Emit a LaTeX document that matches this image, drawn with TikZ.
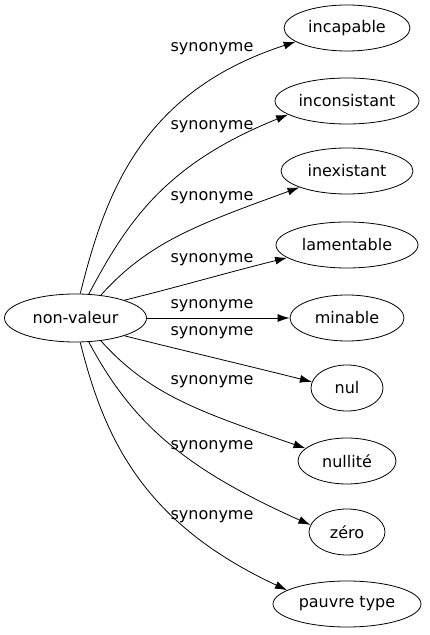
\documentclass[tikz,border=0pt]{standalone}
\usepackage{fontspec}
\setmainfont{DejaVu Sans}
\usetikzlibrary{shapes.geometric,arrows.meta}
\begin{document}
\begin{tikzpicture}[x=1pt,y=1pt,
  word/.style={draw, ellipse, inner sep=0pt, minimum height=46pt, line width=0.8pt, font=\fontsize{16}{18}\selectfont},
  lab/.style={font=\fontsize{16}{18}\selectfont, inner sep=0pt},
  syn/.style={-{Latex[length=12pt,width=8pt]}, line width=0.8pt},
  curvy/.style={out looseness=0.8, in looseness=1.25}]
\useasboundingbox (0,0) rectangle (429,635);
\node[word, minimum width=142pt, minimum height=48pt] (src) at (75.5,317) {non-valeur};
\node[word, minimum width=126pt] (incapable) at (347,607) {incapable};
\node[word, minimum width=144pt] (inconsistant) at (347,534) {inconsistant};
\node[word, minimum width=132pt] (inexistant) at (347,464) {inexistant};
\node[word, minimum width=142pt] (lamentable) at (347,390) {lamentable};
\node[word, minimum width=114pt] (minable) at (347,317) {minable};
\node[word, minimum width=72pt] (nul) at (347,247) {nul};
\node[word, minimum width=98pt] (nullite) at (347,174) {nullité};
\node[word, minimum width=76pt] (zero) at (347,103) {zéro};
\node[word, minimum width=148pt] (pauvre) at (347,31) {pauvre type};
\node[lab] (l1) at (212,586) {synonyme};
\node[lab] (l2) at (212,508) {synonyme};
\node[lab] (l3) at (212,437) {synonyme};
\node[lab] (l4) at (212,375) {synonyme};
\node[lab] (l5) at (212,329) {synonyme};
\node[lab] (l6) at (212,302) {synonyme};
\node[lab] (l7) at (212,253) {synonyme};
\node[lab] (l8) at (212,188) {synonyme};
\node[lab] (l9) at (212,118) {synonyme};
\draw[syn] (src.79) to[out=76,in=198,curvy] (incapable.195);
\draw[syn] (src.61) to[out=62,in=202,curvy] (inconsistant.193);
\draw[syn] (src.42) to[out=48,in=200,curvy] (inexistant.199);
\draw[syn] (src.20) to[out=14,in=194] (lamentable.192);
\draw[syn] (src) -- (minable);
\draw[syn] (src.-20) to[out=-14,in=166] (nul.170);
\draw[syn] (src.-42) to[out=-48,in=161,curvy] (nullite.163);
\draw[syn] (src.-61) to[out=-62,in=156,curvy] (zero.169);
\draw[syn] (src.-79) to[out=-76,in=155,curvy] (pauvre.167);
\end{tikzpicture}
\end{document}
